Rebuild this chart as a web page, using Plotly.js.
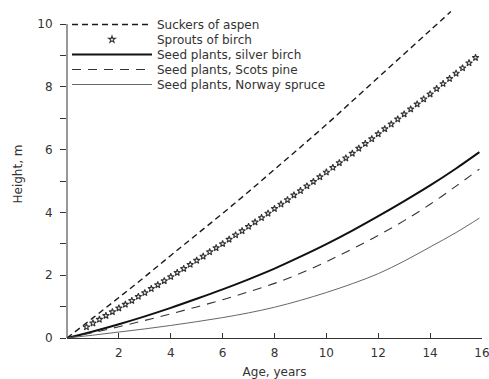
<!DOCTYPE html>
<html>
<head>
<meta charset="utf-8">
<script src="https://cdn.plot.ly/plotly-3.0.1.min.js"></script>
<style>html,body{margin:0;padding:0;background:#fff;}#chart{width:489px;height:379px;}</style>
</head>
<body>
<div id="chart"></div>
<script>
// Data (age in years, height in m)
const aspenAge    = [0, 1, 2, 3, 4, 5, 6, 7, 8, 9, 10, 11, 12, 13, 14, 14.8];
const aspenHeight = [0, 0.64, 1.29, 1.95, 2.63, 3.3, 3.97, 4.66, 5.37, 6.08, 6.8, 7.55, 8.3, 9.05, 9.8, 10.4];

const sproutAge = [0.75, 1, 1.25, 1.5, 1.75, 2, 2.25, 2.5, 2.75, 3, 3.25, 3.5, 3.75, 4, 4.25, 4.5, 4.75, 5,
  5.25, 5.5, 5.75, 6, 6.25, 6.5, 6.75, 7, 7.25, 7.5, 7.75, 8, 8.25, 8.5, 8.75, 9, 9.25, 9.5, 9.75, 10,
  10.25, 10.5, 10.75, 11, 11.25, 11.5, 11.75, 12, 12.25, 12.5, 12.75, 13, 13.25, 13.5, 13.75, 14, 14.25,
  14.5, 14.75, 15, 15.25, 15.5, 15.75];
const sproutHeight = [0.35, 0.47, 0.59, 0.71, 0.83, 0.95, 1.07, 1.19, 1.32, 1.44, 1.57, 1.69, 1.82, 1.95,
  2.08, 2.21, 2.34, 2.47, 2.60, 2.74, 2.87, 3.00, 3.14, 3.28, 3.41, 3.55, 3.69, 3.83, 3.97, 4.12, 4.26,
  4.40, 4.55, 4.69, 4.84, 4.98, 5.13, 5.28, 5.43, 5.58, 5.73, 5.88, 6.04, 6.19, 6.34, 6.50, 6.66, 6.81,
  6.97, 7.13, 7.29, 7.45, 7.61, 7.77, 7.94, 8.10, 8.26, 8.43, 8.60, 8.76, 8.93];

const birchAge    = [0, 1, 2, 3, 4, 5, 6, 7, 8, 9, 10, 11, 12, 13, 14, 15, 15.9];
const birchHeight = [0, 0.21, 0.44, 0.69, 0.96, 1.25, 1.55, 1.87, 2.21, 2.59, 2.99, 3.42, 3.88, 4.36, 4.86, 5.4, 5.92];

const pineAge    = [0, 1, 2, 3, 4, 5, 6, 7, 8, 9, 10, 11, 12, 13, 14, 15, 15.9];
const pineHeight = [0, 0.17, 0.36, 0.56, 0.77, 0.99, 1.22, 1.47, 1.74, 2.06, 2.43, 2.84, 3.27, 3.74, 4.26, 4.84, 5.38];

const spruceAge    = [0, 1, 2, 3, 4, 5, 6, 7, 8, 9, 10, 11, 12, 13, 14, 15, 15.9];
const spruceHeight = [0, 0.09, 0.19, 0.29, 0.4, 0.52, 0.65, 0.8, 0.98, 1.2, 1.45, 1.73, 2.05, 2.45, 2.9, 3.36, 3.82];

const seriesNames = ['Suckers of aspen', 'Sprouts of birch', 'Seed plants, silver birch',
  'Seed plants, Scots pine', 'Seed plants, Norway spruce'];
const xTickVals = [2, 4, 6, 8, 10, 12, 14, 16];
const yTickVals = [0, 2, 4, 6, 8, 10];

const FONT = 'DejaVu Sans, Liberation Sans, sans-serif';
const TXT = '#333';

const traces = [
  {x: aspenAge, y: aspenHeight, name: seriesNames[0], mode: 'lines', legend: 'legend',
   line: {shape: 'spline', color: '#1a1a1a', width: 1.4, dash: '6px,4px'}},
  {x: sproutAge, y: sproutHeight, name: seriesNames[1], mode: 'markers', legend: 'legend2',
   marker: {symbol: 'star-open', size: 5, color: '#333', line: {width: 1.1, color: '#333'}}},
  {x: birchAge, y: birchHeight, name: seriesNames[2], mode: 'lines', legend: 'legend3',
   line: {shape: 'spline', color: '#111', width: 2}},
  {x: pineAge, y: pineHeight, name: seriesNames[3], mode: 'lines', legend: 'legend4',
   line: {shape: 'spline', color: '#333', width: 1.1, dash: '9px,7px'}},
  {x: spruceAge, y: spruceHeight, name: seriesNames[4], mode: 'lines', legend: 'legend5',
   line: {shape: 'spline', color: '#555', width: 0.9}}
];

function legendAt(yPaper) {
  return {x: 0.0, y: yPaper, xanchor: 'left', yanchor: 'top', bgcolor: 'rgba(0,0,0,0)',
    font: {family: FONT, size: 12, color: TXT}, itemwidth: 80};
}

const layout = {
  width: 489, height: 379,
  margin: {l: 67, r: 7, t: 10, b: 41},
  paper_bgcolor: '#fff', plot_bgcolor: '#fff',
  font: {family: FONT, size: 12, color: TXT},
  showlegend: true,
  legend: legendAt(1.0),
  legend2: legendAt(0.9543),
  legend3: legendAt(0.9085),
  legend4: legendAt(0.8628),
  legend5: legendAt(0.8171),
  xaxis: {range: [0, 16], tickvals: xTickVals, ticks: 'inside', ticklen: 5, tickcolor: '#333',
    showline: true, linecolor: '#333', linewidth: 1, showgrid: false, zeroline: false,
    ticklabelstandoff: 4, ticklabeloverflow: 'allow', tickfont: {family: FONT, size: 12, color: TXT},
    title: {text: 'Age, years', font: {family: FONT, size: 12, color: TXT}, standoff: 12}},
  yaxis: {range: [0, 10.45], tickvals: yTickVals, ticks: 'outside', ticklen: 6, tickcolor: '#333',
    minor: {dtick: 1, tick0: 0, ticks: 'outside', ticklen: 6, tickcolor: '#333'},
    showline: false, showgrid: false, zeroline: false, ticklabelstandoff: 5,
    tickfont: {family: FONT, size: 12, color: TXT},
    title: {text: 'Height, m', font: {family: FONT, size: 12, color: TXT}, standoff: 12}},
  shapes: [{type: 'line', xref: 'paper', yref: 'y', x0: 0, x1: 0, y0: 0, y1: 10,
    line: {color: '#333', width: 1}}]
};

Plotly.newPlot('chart', traces, layout, {displayModeBar: false, staticPlot: true});
</script>
</body>
</html>
